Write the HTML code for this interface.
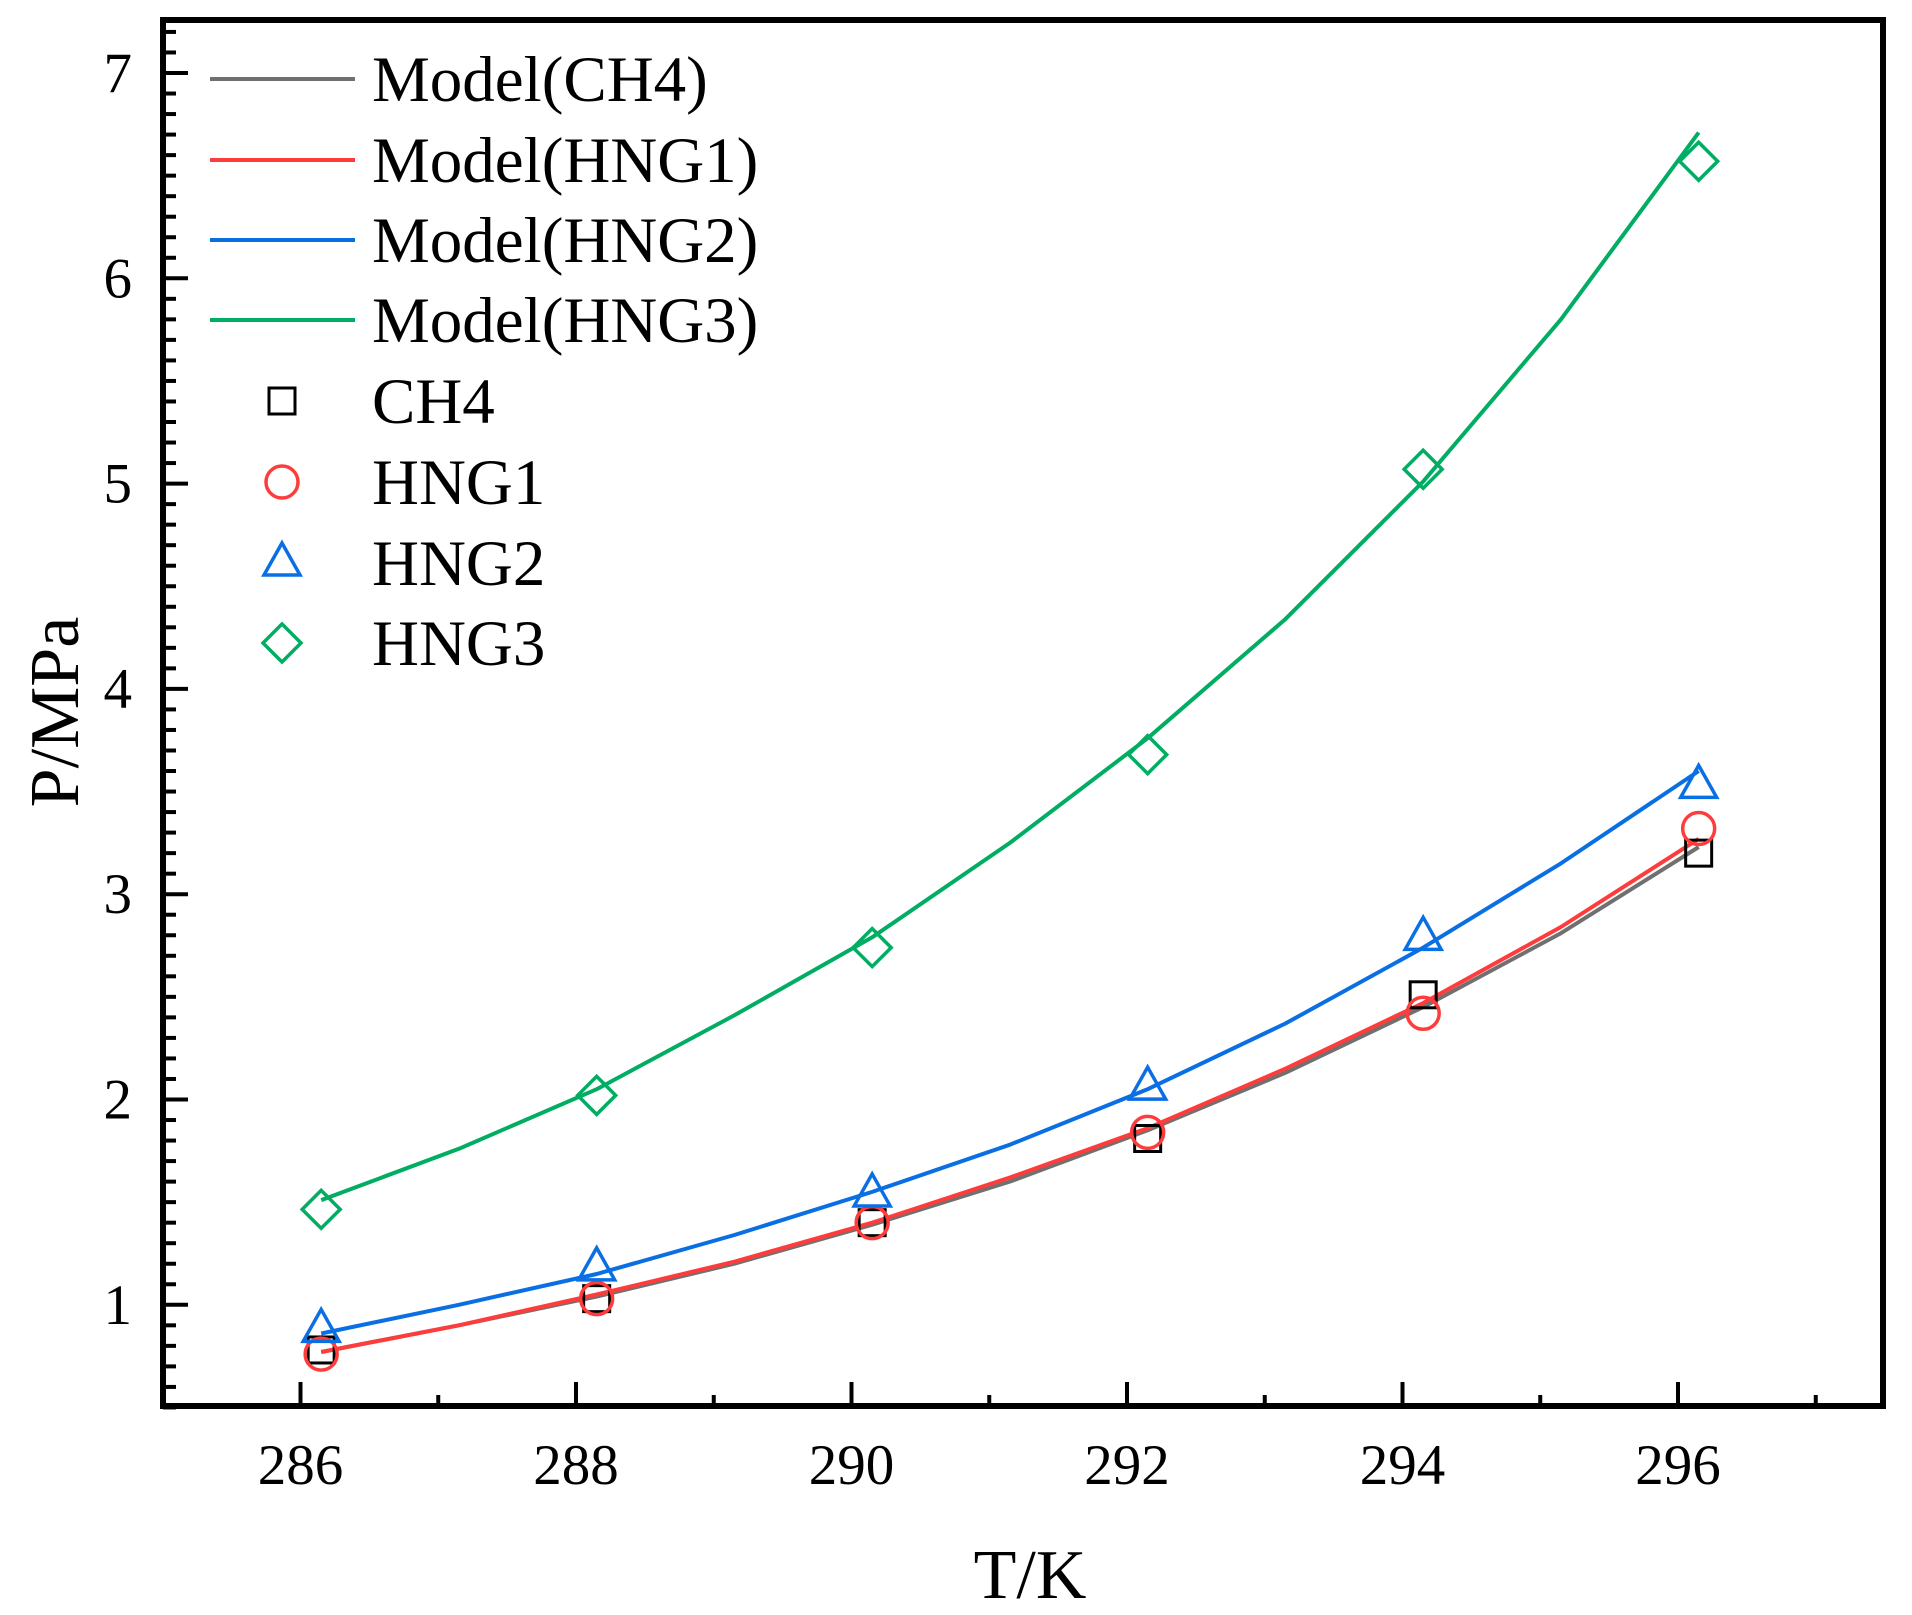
<!DOCTYPE html>
<html><head><meta charset="utf-8"><style>
html,body{margin:0;padding:0;background:#fff;}
svg{display:block;font-family:"Liberation Serif",serif;}
</style></head><body>
<svg id="chart" width="1912" height="1615" viewBox="0 0 1912 1615"></svg>
<script>
const lineT=[286.15,287.15,288.15,289.15,290.15,291.15,292.15,293.15,294.15,295.15,296.15];
const modelCH4=[0.77,0.90,1.04,1.20,1.39,1.60,1.85,2.13,2.45,2.81,3.23];
const modelHNG1=[0.77,0.90,1.05,1.21,1.40,1.62,1.86,2.15,2.47,2.84,3.27];
const modelHNG2=[0.86,1.00,1.15,1.34,1.55,1.78,2.05,2.37,2.74,3.15,3.60];
const modelHNG3=[1.51,1.76,2.05,2.41,2.79,3.25,3.76,4.34,5.01,5.80,6.71];
const expT=[286.15,288.15,290.15,292.15,294.15,296.15];
const expCH4=[0.78,1.03,1.40,1.81,2.51,3.20];
const expHNG1=[0.76,1.03,1.40,1.84,2.42,3.32];
const expHNG2=[0.88,1.18,1.54,2.06,2.79,3.53];
const expHNG3=[1.465,2.02,2.74,3.68,5.07,6.57];
const xTicks=[286,288,290,292,294,296];
const yTicks=[1,2,3,4,5,6,7];

const NS="http://www.w3.org/2000/svg";
const svg=document.getElementById('chart');
const L=163,R=1883,T=20,B=1406;
function xs(t){return 300.5+(t-286)*137.75;}
function ys(v){return 73+(7-v)*205.3;}
function mk(tag,attrs,parent){const e=document.createElementNS(NS,tag);for(const k in attrs)e.setAttribute(k,attrs[k]);(parent||svg).appendChild(e);return e;}

const frame=mk('rect',{x:L,y:T,width:R-L,height:B-T,fill:'none',stroke:'#000','stroke-width':6});



for(let t=286;t<=297;t++){
  const major=xTicks.includes(t);
  const tk=mk('line',{x1:xs(t),x2:xs(t),y1:B,y2:B-(major?24:11),stroke:'#000','stroke-width':4});
  
  
}
xTicks.forEach(t=>{
  const tx=mk('text',{x:xs(t),y:1484,'text-anchor':'middle','font-size':57});
  tx.textContent=t;
  
  
});
for(let i=5;i<=72;i++){
  const v=i/10;
  if(ys(v)<T+3)continue;
  const major=(i%10===0);
  const tk=mk('line',{x1:L,x2:L+(major?25:13),y1:ys(v),y2:ys(v),stroke:'#000','stroke-width':4});
  
  
}
yTicks.forEach(v=>{
  const tx=mk('text',{x:132,y:ys(v)+19,'text-anchor':'end','font-size':57});
  tx.textContent=v;
  
  
});
const xt=mk('text',{x:1030,y:1598,'text-anchor':'middle','font-size':70});
xt.textContent='T/K';


const yt=mk('text',{x:0,y:0,'text-anchor':'middle','font-size':70,transform:'translate(78,712) rotate(-90)'});
yt.textContent='P/MPa';



const colors={ch4:'#707070',h1:'#ff3c3c',h2:'#0a6fe3',h3:'#00ad62'};
function drawLine(vals,color,name){
  const d=lineT.map((t,i)=>(i?'L':'M')+xs(t).toFixed(1)+','+ys(vals[i]).toFixed(1)).join(' ');
  const p=mk('path',{d:d,fill:'none',stroke:color,'stroke-width':4,'stroke-linejoin':'round'});
  
  
}
drawLine(modelCH4,colors.ch4,'model-ch4-line');
drawLine(modelHNG1,colors.h1,'model-hng1-line');
drawLine(modelHNG2,colors.h2,'model-hng2-line');
drawLine(modelHNG3,colors.h3,'model-hng3-line');

function marker(shape,cx,cy,color){
  let e;
  if(shape==='square') e=mk('rect',{x:cx-13,y:cy-13,width:26,height:26,fill:'none',stroke:'#000','stroke-width':3});
  else if(shape==='circle') e=mk('circle',{cx:cx,cy:cy,r:16,fill:'none',stroke:color,'stroke-width':3.5});
  else if(shape==='triangle') e=mk('path',{d:`M${cx},${cy-20} L${cx+18},${cy+12} L${cx-18},${cy+12} Z`,fill:'none',stroke:color,'stroke-width':3.5});
  else e=mk('path',{d:`M${cx},${cy-19} L${cx+19},${cy} L${cx},${cy+19} L${cx-19},${cy} Z`,fill:'none',stroke:color,'stroke-width':3.5});
  return e;
}
function drawPts(vals,shape,color,name){
  expT.forEach((t,i)=>{
    const e=marker(shape,xs(t),ys(vals[i]),color);
    
    
  });
}
drawPts(expCH4,'square','#000','ch4-point');
drawPts(expHNG1,'circle',colors.h1,'hng1-point');
drawPts(expHNG2,'triangle',colors.h2,'hng2-point');
drawPts(expHNG3,'diamond',colors.h3,'hng3-point');

const legY=[79,160,240,320,401,482,563,643];
const legLabels=['Model(CH4)','Model(HNG1)','Model(HNG2)','Model(HNG3)','CH4','HNG1','HNG2','HNG3'];
const legCol=[colors.ch4,colors.h1,colors.h2,colors.h3,'#000',colors.h1,colors.h2,colors.h3];
const legShape=['','','','','square','circle','triangle','diamond'];
legLabels.forEach((lab,i)=>{
  if(i<4){
    const l=mk('line',{x1:210,x2:355,y1:legY[i],y2:legY[i],stroke:legCol[i],'stroke-width':4});
    
    
  } else {
    const m=marker(legShape[i],282,legY[i],legCol[i]);
    
    
  }
  const tx=mk('text',{x:372,y:legY[i]+22,'font-size':65});
  tx.textContent=lab;
  
  
});
</script>
</body></html>
